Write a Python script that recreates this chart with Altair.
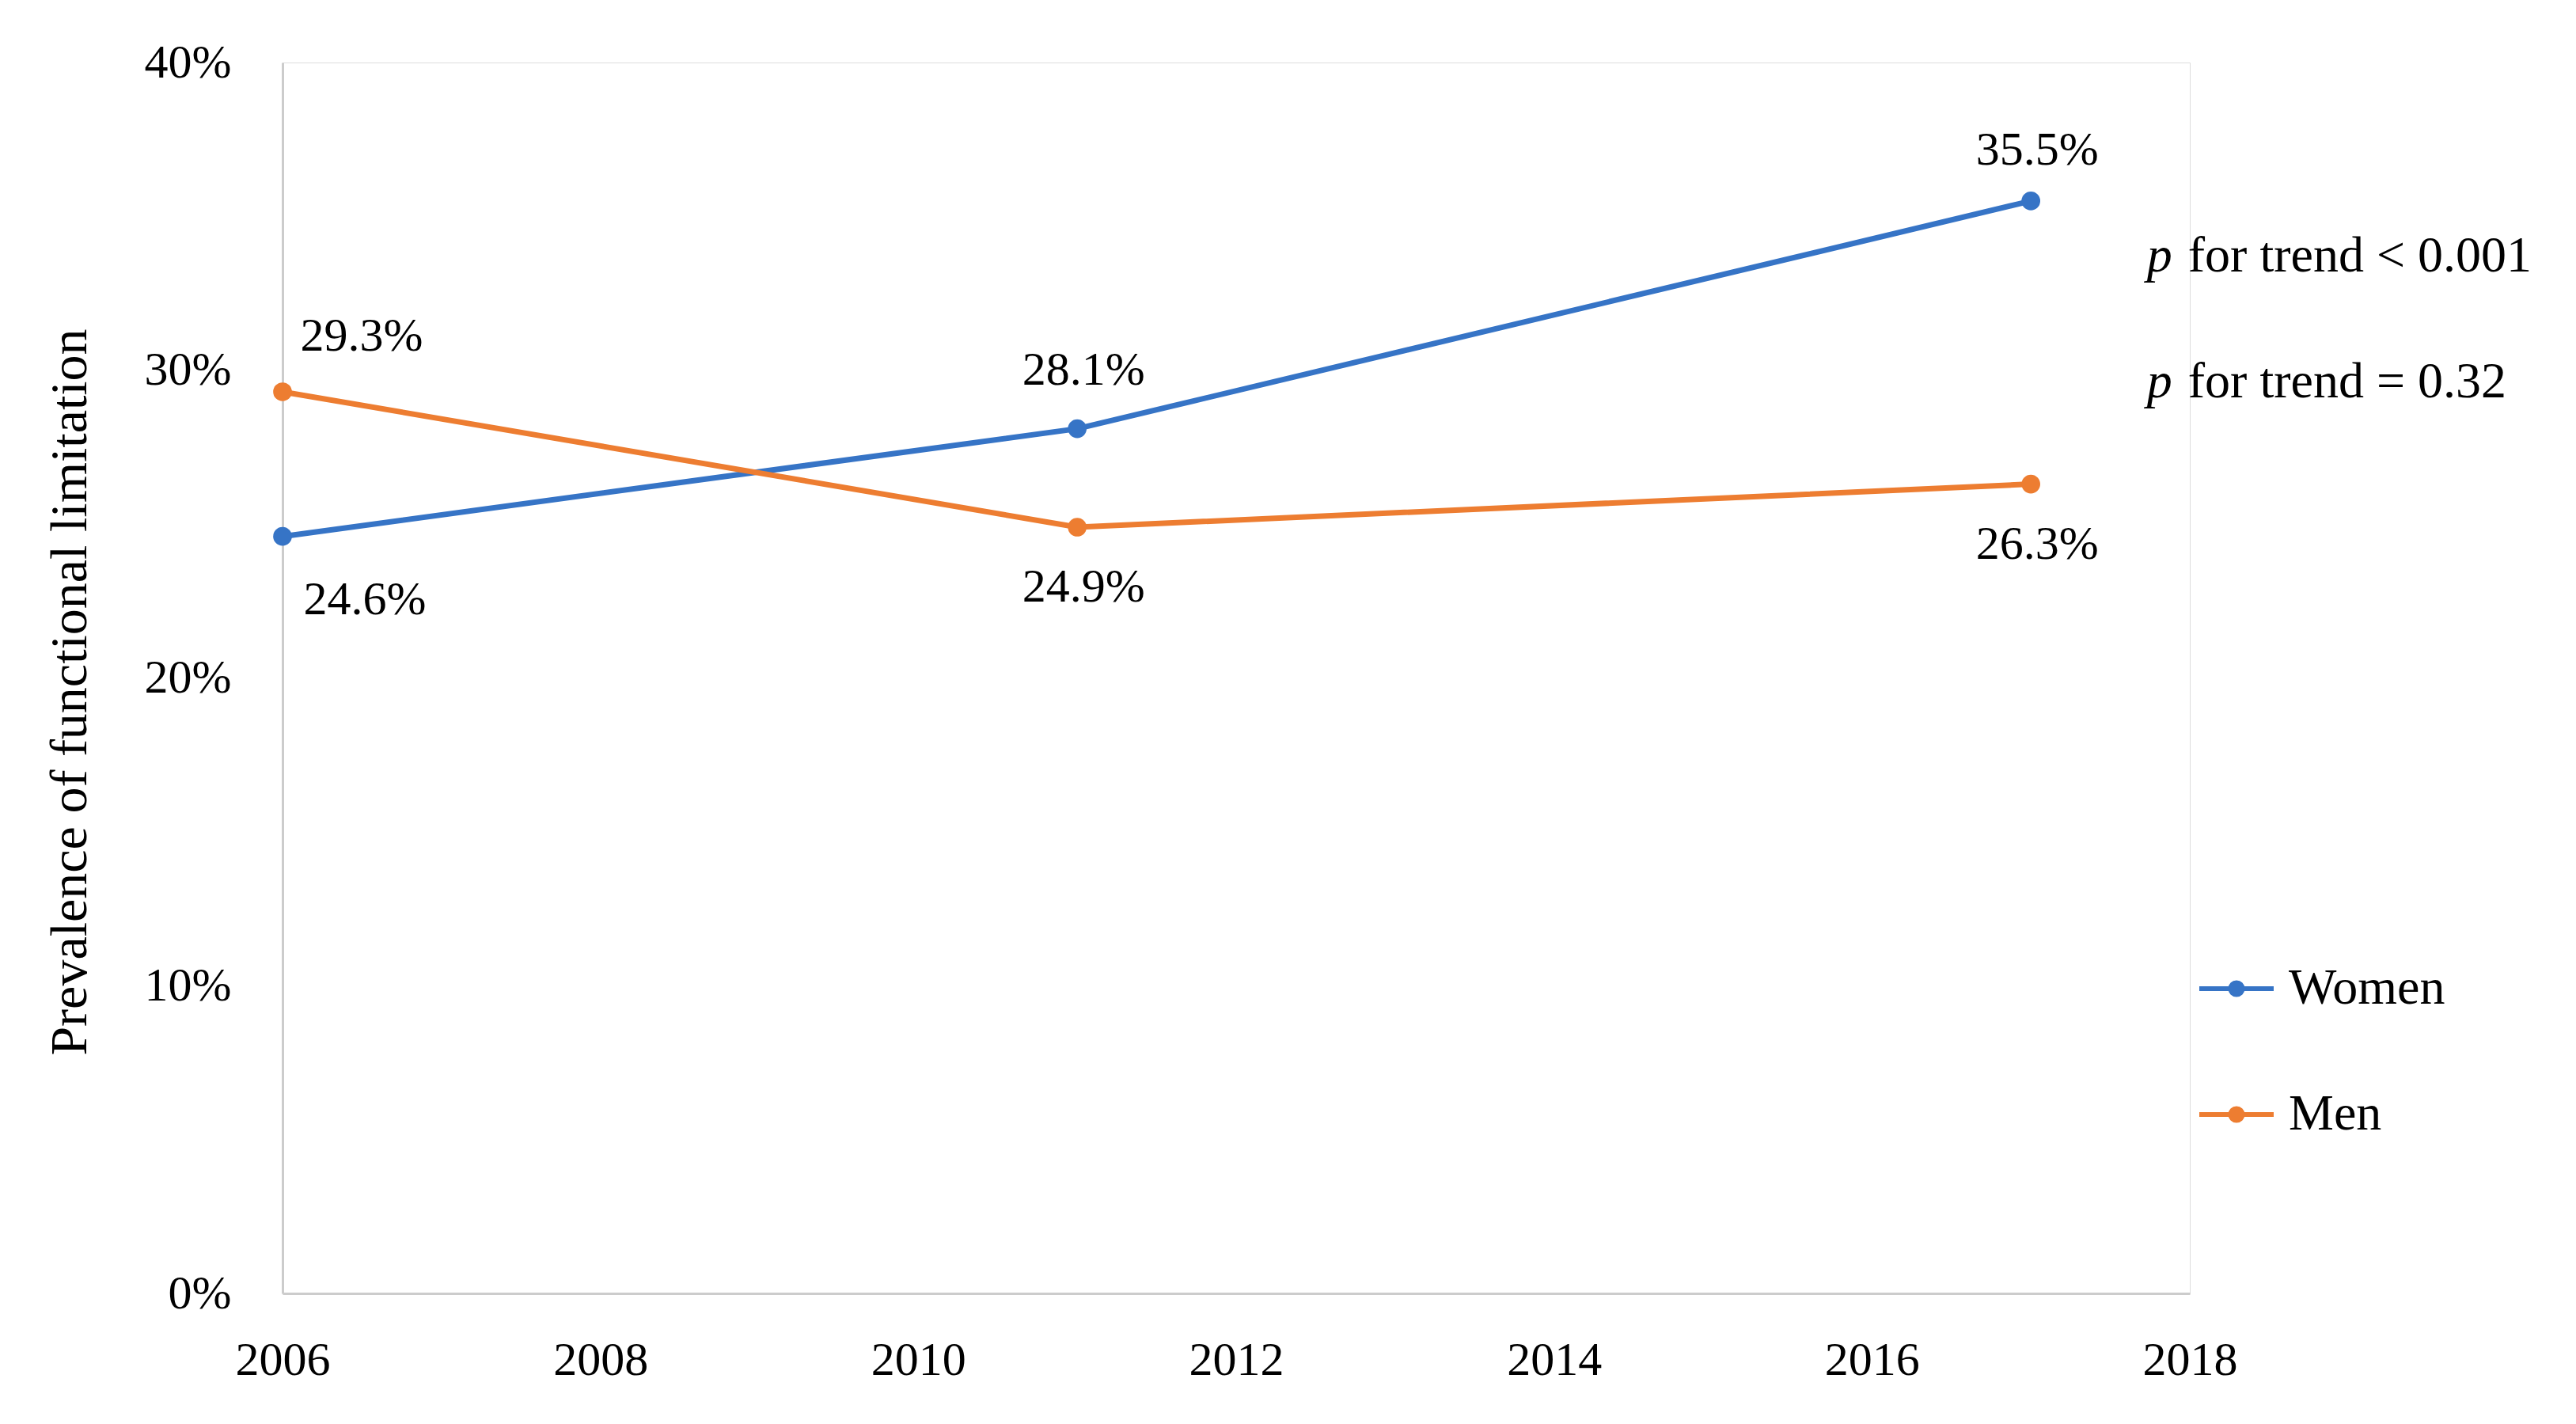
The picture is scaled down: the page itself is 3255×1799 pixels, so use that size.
import altair as alt
import pandas as pd

years = [2006, 2011, 2017]
women = [24.6, 28.1, 35.5]
men = [29.3, 24.9, 26.3]
series = ["Women", "Men"]
colors = ["#3674C6", "#ED7D31"]
x_ticks = [2006, 2008, 2010, 2012, 2014, 2016, 2018]
y_ticks = [0, 10, 20, 30, 40]
p_texts = ["for trend < 0.001", "for trend = 0.32"]
p_y = [33.7, 29.6]
p_x = [2017.73, 2017.73]

rows = []
for yr, w, m in zip(years, women, men):
    rows.append({"year": yr, "value": w, "sex": "Women"})
    rows.append({"year": yr, "value": m, "sex": "Men"})
df = pd.DataFrame(rows)
pdf = pd.DataFrame({"x": p_x, "y": p_y, "t": p_texts, "p": ["p", "p"]})

FONT = "Liberation Serif"
FS = 60

xenc = alt.X("year:Q",
             scale=alt.Scale(domain=[2006, 2018], nice=False, zero=False),
             axis=alt.Axis(values=x_ticks, format="d", title=None, grid=False,
                           ticks=False, tickSize=0, labelPadding=55,
                           labelFont=FONT, labelFontSize=FS, labelColor="#000",
                           domainColor="#cccccc", domainWidth=3, labelFlush=False))
yenc = alt.Y("value:Q",
             scale=alt.Scale(domain=[0, 40], nice=False),
             axis=alt.Axis(values=y_ticks, labelExpr="datum.value + '%'",
                           title="Prevalence of functional limitation",
                           grid=False, ticks=False, tickSize=0, labelPadding=65,
                           labelFont=FONT, labelFontSize=FS, labelColor="#000",
                           titleFont=FONT, titleFontSize=66, titleFontWeight="normal",
                           titleColor="#000", titleAngle=-90, titleBaseline="middle",
                           titleAlign="center", titleX=-269, titleY=795,
                           domainColor="#cccccc", domainWidth=3))

scale = alt.Scale(domain=series, range=colors)
sym = ("M-1,0H1"
       "M0.16,0A0.16,0.16,0,1,1,-0.16,0A0.16,0.16,0,1,1,0.16,0"
       "M0.09,0A0.09,0.09,0,1,1,-0.09,0A0.09,0.09,0,1,1,0.09,0"
       "M0.03,0A0.03,0.03,0,1,1,-0.03,0A0.03,0.03,0,1,1,0.03,0")
leg = alt.Legend(title=None, orient="none", legendX=2419, legendY=1120,
                 symbolType=sym, symbolSize=8836, symbolStrokeWidth=6,
                 labelFont=FONT, labelFontSize=64, labelColor="#000",
                 labelLimit=1000, labelOffset=16, rowPadding=77)

base = alt.Chart(df)
lines = base.mark_line(strokeWidth=7).encode(
    x=xenc, y=yenc,
    color=alt.Color("sex:N", scale=scale, legend=leg))
points = base.mark_circle(size=560, opacity=1).encode(
    x="year:Q", y="value:Q",
    color=alt.Color("sex:N", scale=scale, legend=leg))

lab = base.transform_calculate(label="format(datum.value, '.1f') + '%'")
def tl(filt, dx, dy):
    return lab.transform_filter(filt).mark_text(
        font=FONT, fontSize=FS, color="#000", dx=dx, dy=dy, baseline="middle"
    ).encode(x="year:Q", y="value:Q", text="label:N")

t1 = tl("datum.year == 2006 && datum.sex == 'Men'", 100, -70)
t2 = tl("datum.year == 2006 && datum.sex == 'Women'", 104, 80)
t3 = tl("datum.year == 2011 && datum.sex == 'Women'", 8, -74)
t5 = tl("datum.year == 2017 && datum.sex == 'Women'", 8, -64)
t4 = tl("datum.year != 2006 && datum.sex == 'Men'", 8, 76)

pb = alt.Chart(pdf)
pit = pb.mark_text(font=FONT, fontSize=64, fontStyle="italic", color="#000",
                   align="left", baseline="middle").encode(x="x:Q", y="y:Q", text="p:N")
prest = pb.mark_text(font=FONT, fontSize=64, color="#000", align="left",
                     baseline="middle", dx=52).encode(x="x:Q", y="y:Q", text="t:N")

chart = alt.layer(lines, points, t1, t2, t3, t5, t4, pit, prest).properties(
    width=2410, height=1555,
    autosize=alt.AutoSizeParams(type="none"),
    padding={"left": 349, "top": 71, "right": 455, "bottom": 140},
).configure_view(stroke="#ffffff", strokeWidth=0, strokeOpacity=0, fill="#ffffff"
).configure_axis(grid=False).configure(background="#ffffff")

chart.save("out.html", embed_options={"renderer": "svg", "actions": False})
